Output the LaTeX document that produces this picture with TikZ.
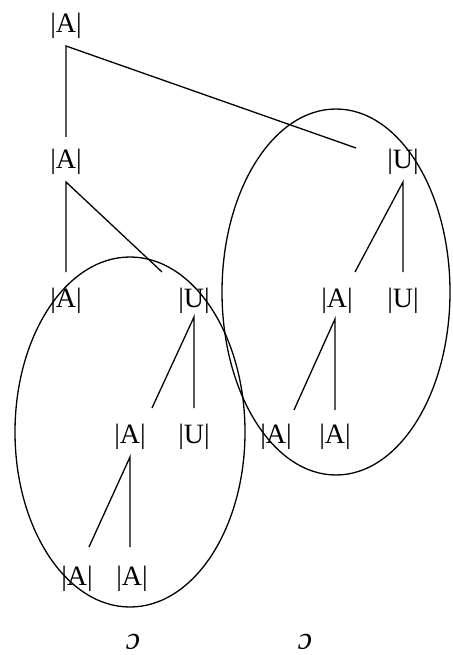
\documentclass[tikz,border=0pt]{standalone}
\usepackage{fontspec}
\setmainfont{Liberation Serif}
\usepackage{graphicx}
\usetikzlibrary{calc}

\begin{document}
\begin{tikzpicture}[
    x=1pt, y=-1pt,
    lbl/.style={inner sep=0pt, anchor=base, font=\fontsize{28}{30}\selectfont},
    sym/.style={inner sep=0pt, anchor=center, font=\fontsize{32}{34}\selectfont\itshape},
    edge/.style={line width=1.3pt},
    group/.style={line width=1.3pt}
]
    \useasboundingbox (0,0) rectangle (452,655);

    % Tree labels
    \node (a0) [lbl] at (66, 33) {|A|};
    \node (a1) [lbl] at (66, 168) {|A|};
    \node (u1) [lbl] at (403, 168) {|U|};
    \node (a2) [lbl] at (66, 307) {|A|};
    \node (u2) [lbl] at (194, 307) {|U|};
    \node (a3) [lbl] at (337, 307) {|A|};
    \node (u3) [lbl] at (403, 307) {|U|};
    \node (a4) [lbl] at (130, 443) {|A|};
    \node (u4) [lbl] at (194, 443) {|U|};
    \node (a5) [lbl] at (276, 443) {|A|};
    \node (a6) [lbl] at (335, 443) {|A|};
    \node (a7) [lbl] at (77, 585) {|A|};
    \node (a8) [lbl] at (132, 585) {|A|};

    % Branches
    \draw [edge] ($(a1.base)+(0,-31)$) -- ($(a0.base)+(0,13)$) -- ($(u1.base)+(-47,-20)$);
    \draw [edge] ($(a2.base)+(0,-35)$) -- ($(a1.base)+(0,14)$) -- ($(u2.base)+(-32,-35)$);
    \draw [edge] ($(a3.base)+(18,-35)$) -- ($(u1.base)+(0,14)$) -- ($(u3.base)+(0,-35)$);
    \draw [edge] ($(a4.base)+(22,-35)$) -- ($(u2.base)+(0,10)$) -- ($(u4.base)+(0,-35)$);
    \draw [edge] ($(a5.base)+(18,-33)$) -- ($(a3.base)+(-2,12)$) -- ($(a6.base)+(0,-33)$);
    \draw [edge] ($(a7.base)+(12,-38)$) -- ($(a4.base)+(0,14)$) -- ($(a8.base)+(-2,-38)$);

    % Groups
    \draw [group] (130, 432) ellipse [x radius=115, y radius=175];
    \draw [group] (336, 292) ellipse [x radius=114, y radius=183];

    % Symbols below
    \node (s1) [sym] at (133, 642) {\rotatebox{180}{c}};
    \node (s2) [sym] at (305, 642) {\rotatebox{180}{c}};

\end{tikzpicture}
\end{document}
